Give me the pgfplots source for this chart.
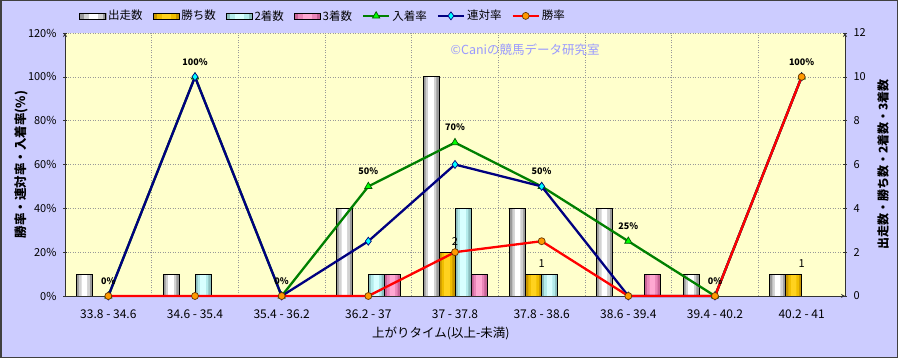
\documentclass[border=0pt]{standalone}
\usepackage{pgfplots}
\usepackage{pgfplotstable}
\pgfplotsset{compat=1.18}
\usepackage{fontspec}
\setmainfont{Noto Sans CJK JP}
\definecolor{framebg}{HTML}{CCCCFF}
\definecolor{plotbg}{HTML}{FFFFCC}
\definecolor{grayE}{HTML}{9A9A9A}
\definecolor{grayM}{HTML}{D2D2D2}
\definecolor{grayL}{HTML}{FFFFFF}
\definecolor{goldE}{HTML}{C89600}
\definecolor{goldM}{HTML}{F0BE00}
\definecolor{goldL}{HTML}{FFD21E}
\definecolor{cyanE}{HTML}{8CBEBE}
\definecolor{cyanM}{HTML}{B4EBEB}
\definecolor{cyanL}{HTML}{D8FFFF}
\definecolor{pinkE}{HTML}{C86496}
\definecolor{pinkM}{HTML}{EB87B9}
\definecolor{pinkL}{HTML}{FFA8D2}
\definecolor{linegreen}{HTML}{008000}
\definecolor{marklime}{HTML}{00FF00}
\definecolor{navyc}{HTML}{000080}
\definecolor{markcyan}{HTML}{00FFFF}
\definecolor{orangec}{HTML}{FF9900}
\definecolor{wm}{HTML}{9999FF}
% counts per category (x = 1..9), zero bars omitted
\pgfplotstableread{
x y
1 1
2 1
4 4
5 10
6 4
7 4
8 1
9 1
}\tabRuns
\pgfplotstableread{
x y
5 2
6 1
9 1
}\tabWins
\pgfplotstableread{
x y
2 1
4 1
5 4
6 1
}\tabSecond
\pgfplotstableread{
x y
4 1
5 1
7 1
}\tabThird
\newcommand{\layeredbars}[5]{%
  \addplot[ybar, bar shift=#2, bar width=0.1846, draw=none, fill=#3] table {#1};
  \addplot[ybar, bar shift=#2, bar width=0.125, draw=none, fill=#4] table {#1};
  \addplot[ybar, bar shift=#2, bar width=0.065, draw=none, fill=#5] table {#1};
  \addplot[ybar, bar shift=#2, bar width=0.1846, draw=black, line width=0.7bp, fill=none] table {#1};
}
\newcommand{\legbar}[3]{%
  \addlegendimage{legend image code/.code={%
    \fill[#1] (0bp,-3bp) rectangle (26bp,3bp);
    \fill[#2] (4bp,-3bp) rectangle (22bp,3bp);
    \fill[#3] (9bp,-3bp) rectangle (17bp,3bp);
    \draw[black, line width=0.7bp] (0bp,-3bp) rectangle (26bp,3bp);}}%
}
\begin{document}
\begin{tikzpicture}
\fill[framebg] (0bp,0bp) rectangle (898bp,358bp);
\draw[black!75, line width=1.5bp] (0.75bp,0.75bp) rectangle (897.25bp,357.25bp);
\pgfplotsset{
  base/.style={
    at={(65bp,62bp)}, anchor=south west,
    scale only axis, width=780bp, height=263bp,
    xmin=0.5, xmax=9.5,
    tick label style={font=\fontsize{11bp}{13bp}\selectfont},
    label style={font=\fontsize{11.5bp}{13bp}\selectfont},
    /pgf/number format/assume math mode=true,
    tick align=inside, major tick length=4bp, minor tick length=0bp,
    axis line style={-, black!80, line width=0.8bp},
    tick style={black!80, line width=0.6bp},
  },
}
\begin{axis}[base,
  ymin=0, ymax=12, ytick={0,2,...,12},
  axis y line=right, axis x line=bottom,
  axis background/.style={fill=plotbg},
  xtick={1,...,9},
  xticklabels={33.8 - 34.6,34.6 - 35.4,35.4 - 36.2,36.2 - 37,37 - 37.8,37.8 - 38.6,38.6 - 39.4,39.4 - 40.2,40.2 - 41},
  major x tick style={draw=none},
  xticklabel style={yshift=-8bp, font=\fontsize{12bp}{14bp}\selectfont},
  yticklabel style={xshift=3bp},
  minor xtick={1.5,2.5,...,8.5},
  xminorgrids=true, ymajorgrids=true,
  grid style={gray!80, line width=0.6bp, dash pattern=on 1bp off 1.5bp},
  minor grid style={gray!80, line width=0.6bp, dash pattern=on 1bp off 1.5bp},
  ylabel={出走数・勝ち数・2着数・3着数},
  ylabel style={at={(axis description cs:1.0487,0.5)}, anchor=center, font=\bfseries\fontsize{12bp}{14bp}\selectfont},
  xlabel={上がりタイム(以上-未満)},
  xlabel style={at={(axis description cs:0.482,-0.141)}, anchor=center, font=\fontsize{12.5bp}{14bp}\selectfont},
]
\layeredbars{\tabRuns}{-0.2769}{grayE}{grayM}{grayL}
\layeredbars{\tabWins}{-0.0923}{goldE}{goldM}{goldL}
\layeredbars{\tabSecond}{0.0923}{cyanE}{cyanM}{cyanL}
\layeredbars{\tabThird}{0.2769}{pinkE}{pinkM}{pinkL}
\addplot[ybar, bar shift=-0.0923, bar width=0.1846, draw=none, fill=none, point meta=y, nodes near coords,
  nodes near coords style={font=\fontsize{11bp}{13bp}\selectfont, text=black, anchor=south, yshift=3bp}]
  table {\tabWins};
\node[text=wm, font=\fontsize{12.5bp}{14bp}\selectfont] at (rel axis cs:0.59,0.935) {©Caniの競馬データ研究室};
\end{axis}
\begin{axis}[base,
  ymin=0, ymax=120, ytick={0,20,...,120},
  yticklabel={\pgfmathprintnumber{\tick}\%},
  yticklabel style={xshift=-3bp},
  axis y line=left, axis x line=none, xtick=\empty,
  ylabel={勝率・連対率・入着率(\%)},
  ylabel style={at={(axis description cs:-0.0564,0.5)}, anchor=center, font=\bfseries\fontsize{12.5bp}{14bp}\selectfont},
  clip=false,
  legend columns=-1,
  legend style={draw=none, fill=none, at={(0.331,1.065)}, anchor=center, font=\fontsize{11.5bp}{13bp}\selectfont, /tikz/every even column/.append style={column sep=8bp}, inner sep=0pt},
  legend image code/.code={\draw[mark repeat=2,mark phase=2,#1] plot coordinates {(0bp,0bp)(13bp,0bp)(26bp,0bp)};},
]
\legbar{grayE}{grayM}{grayL}
\addlegendentry{出走数}
\legbar{goldE}{goldM}{goldL}
\addlegendentry{勝ち数}
\legbar{cyanE}{cyanM}{cyanL}
\addlegendentry{2着数}
\legbar{pinkE}{pinkM}{pinkL}
\addlegendentry{3着数}
\addplot[linegreen, line width=2.3bp, mark=triangle*, mark size=4.2bp, mark options={fill=marklime, draw=linegreen!70!black, line width=0.7bp},
  nodes near coords={\pgfmathprintnumber{\pgfplotspointmeta}\%},
  nodes near coords style={font=\bfseries\fontsize{9bp}{10bp}\selectfont, text=black, anchor=south, yshift=8bp}]
  coordinates {(1,0) (2,100) (3,0) (4,50) (5,70) (6,50) (7,25) (8,0) (9,100)};
\addlegendentry{入着率}
\addplot[navyc, line width=2.3bp, mark=diamond*, mark size=4bp, mark options={fill=markcyan, draw=navyc, line width=0.7bp}]
  coordinates {(1,0) (2,100) (3,0) (4,25) (5,60) (6,50) (7,0) (8,0) (9,100)};
\addlegendentry{連対率}
\addplot[red, line width=2.3bp, mark=*, mark size=3.5bp, mark options={fill=orangec, draw=black!60!orange, line width=0.7bp}]
  coordinates {(1,0) (2,0) (3,0) (4,0) (5,20) (6,25) (7,0) (8,0) (9,100)};
\addlegendentry{勝率}
\end{axis}
\end{tikzpicture}
\end{document}
